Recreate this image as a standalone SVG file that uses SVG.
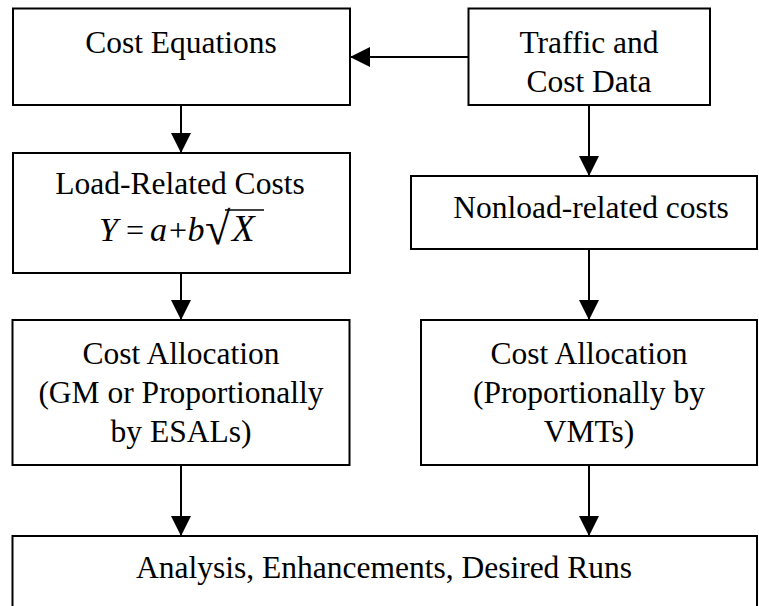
<svg xmlns="http://www.w3.org/2000/svg" width="759" height="606" viewBox="0 0 759 606">
<style>
.box{fill:#fff;stroke:#000;stroke-width:2}
.t{font-family:"Liberation Serif","Times New Roman",serif;font-size:31.5px;fill:#000;text-anchor:middle}
.m{font-family:"Liberation Serif","Times New Roman",serif;font-size:34px;fill:#000}
.o{font-size:32px}
.i{font-style:italic}
.c{stroke:#000;stroke-width:2;fill:none}
</style>
<defs>
<marker id="ah" markerUnits="userSpaceOnUse" markerWidth="20" markerHeight="20" refX="20" refY="10" orient="auto">
<path d="M0,0 L20,10 L0,20 Z" fill="#000"/>
</marker>
</defs>
<rect width="759" height="606" fill="#fff"/>
<g id="connectors">
<line class="c" x1="468.5" y1="57" x2="350" y2="57" marker-end="url(#ah)"/>
<line class="c" x1="181" y1="105" x2="181" y2="153" marker-end="url(#ah)"/>
<line class="c" x1="589" y1="105" x2="589" y2="176" marker-end="url(#ah)"/>
<line class="c" x1="181" y1="273" x2="181" y2="320" marker-end="url(#ah)"/>
<line class="c" x1="589" y1="249" x2="589" y2="320" marker-end="url(#ah)"/>
<line class="c" x1="181" y1="465" x2="181" y2="536" marker-end="url(#ah)"/>
<line class="c" x1="589" y1="465" x2="589" y2="536" marker-end="url(#ah)"/>
</g>
<g id="cost-equations">
<rect class="box" x="13" y="8.5" width="337" height="96.5"/>
<text class="t" x="181" y="53">Cost Equations</text>
</g>
<g id="traffic-data">
<rect class="box" x="468.5" y="8.5" width="241.5" height="96.5"/>
<text class="t" x="589" y="53">Traffic and</text>
<text class="t" x="589" y="92">Cost Data</text>
</g>
<g id="load-related">
<rect class="box" x="13" y="153" width="337" height="120"/>
<text class="t" x="180" y="194">Load-Related Costs</text>
<text class="m"><tspan class="i" x="99" y="241">Y</tspan><tspan class="o" x="126" y="241">=</tspan><tspan class="i" x="150" y="241">a</tspan><tspan class="o" x="169" y="241">+</tspan><tspan class="i" x="187.5" y="241">b</tspan><tspan class="i" x="232" y="241" style="font-size:37px">X</tspan></text>
<text class="m" x="205" y="244" style="font-size:46px">√</text>
<line x1="225" y1="210" x2="264" y2="210" stroke="#000" stroke-width="1.5"/>
</g>
<g id="nonload-related">
<rect class="box" x="411" y="176" width="346" height="73"/>
<text class="t" x="591" y="218">Nonload-related costs</text>
</g>
<g id="allocation-left">
<rect class="box" x="12.5" y="320" width="337" height="145"/>
<text class="t" x="181" y="364">Cost Allocation</text>
<text class="t" x="181" y="403">(GM or Proportionally</text>
<text class="t" x="181" y="442">by ESALs)</text>
</g>
<g id="allocation-right">
<rect class="box" x="421" y="320" width="336" height="145"/>
<text class="t" x="589" y="364">Cost Allocation</text>
<text class="t" x="589" y="403">(Proportionally by</text>
<text class="t" x="589" y="442">VMTs)</text>
</g>
<g id="analysis">
<rect class="box" x="12.5" y="536" width="744.5" height="90"/>
<text class="t" x="384" y="578">Analysis, Enhancements, Desired Runs</text>
</g>
</svg>
